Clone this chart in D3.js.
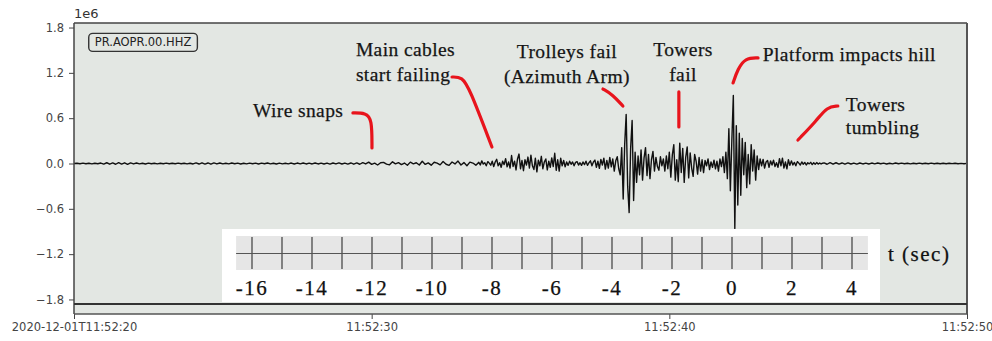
<!DOCTYPE html>
<html>
<head>
<meta charset="utf-8">
<script src="https://cdn.jsdelivr.net/npm/d3@7"></script>
<style>
  html, body { margin: 0; padding: 0; background: #ffffff; }
  svg { display: block; }
</style>
</head>
<body>
<svg id="chart" width="992" height="341"></svg>
<script>
// Seismogram, station PR.AOPR.00.HHZ, 2020-12-01 11:52:20 – 11:52:50 UTC.
// Amplitudes are in units of 1e6 counts; times are seconds past 11:52:00.

// Quiet record before the collapse (0.1 s samples from 11:52:20.0)
const earlyStart = 20.0, earlyStep = 0.1;
const traceEarly = [
  0, 0.004, -0.003, 0.005, -0.004, 0.003, -0.005, 0.004, -0.003, 0.006,
  -0.008, 0.01, -0.009, 0.007, -0.01, 0.012, -0.008, 0.009, -0.011, 0.008,
  -0.006, 0.007, -0.005, 0.004, -0.006, 0.005, -0.004, 0.003, -0.005, 0.004,
  -0.003, 0.005, -0.004, 0.003, -0.004, 0.005, -0.003, 0.004, -0.005, 0.004,
  -0.006, 0.008, -0.007, 0.009, -0.008, 0.007, -0.009, 0.008, -0.006, 0.007,
  -0.005, 0.004, -0.005, 0.006, -0.004, 0.005, -0.006, 0.004, -0.005, 0.005,
  -0.004, 0.005, -0.006, 0.005, -0.004, 0.006, -0.005, 0.004, -0.006, 0.005,
  -0.005, 0.004, -0.005, 0.006, -0.007, 0.006, -0.005, 0.007, -0.006, 0.005,
  -0.006, 0.007, -0.006, 0.005, -0.007, 0.006, -0.008, 0.007, -0.006, 0.008,
  -0.007, 0.006, -0.008, 0.007, -0.009, 0.008, -0.01, 0.012, -0.006, 0.018,
  -0.012, 0.004, -0.02, 0.01, 0.015, -0.008, -0.018, 0.022, -0.005, 0.012,
  -0.015, 0.006, -0.024, 0.018, -0.004, 0.01, -0.02, 0.03, -0.012, 0.008,
  -0.022, 0.016, 0.004, -0.018, 0.026, -0.01, -0.025, 0.02, -0.006, 0.032,
  -0.02, 0.012, -0.03, 0.018, 0.006, -0.022
];

// Collapse sequence (0.05 s samples from 11:52:33.6)
const activeStart = 33.6, activeStep = 0.05;
const traceActive = [
  0.015, -0.02, 0.035, -0.008, 0.01, -0.03, 0.025, 0.005, -0.022, 0.03,
  -0.04, 0.02, 0.055, -0.03, 0.01, -0.05, 0.03, -0.015, 0.065, -0.045,
  0.02, -0.06, 0.105, -0.04, 0.03, -0.085, 0.06, 0.125, -0.07, 0.04,
  -0.095, 0.05, -0.02, 0.085, -0.06, 0.11, -0.03, -0.08, 0.07, -0.11,
  0.045, -0.03, 0.095, -0.07, 0.02, 0.06, -0.085, 0.03, -0.05, 0.075,
  -0.04, 0.135, -0.09, 0.05, -0.1, 0.07, -0.03, 0.04, -0.045, 0.02,
  -0.025, 0.03, -0.01, 0.02, -0.03, 0.015, 0.025, -0.02, 0.01, -0.025,
  0.02, -0.015, 0.03, -0.025, 0.01, 0.035, -0.03, 0.02, 0.045, -0.05,
  0.03, -0.065, 0.055, -0.02, 0.07, -0.075, 0.04, -0.06, 0.08, -0.045,
  0.06, -0.1, 0.035, 0.09, -0.07, -0.15, 0.21, -0.47, 0.25, 0.65,
  -0.30, -0.65, 0.20, 0.57, -0.49, 0.15, -0.25, 0.10, -0.15, 0.18,
  -0.22, 0.07, 0.21, -0.16, 0.12, -0.20, 0.05, 0.16, -0.1, 0.08,
  -0.04, -0.09, 0.09, -0.03, 0.06, -0.1, 0.1, -0.07, 0.15, -0.18,
  0.11, 0.25, -0.22, 0.05, -0.24, 0.27, -0.12, 0.2, -0.25, 0.08,
  0.22, -0.19, 0.14, -0.06, -0.17, 0.12, 0.03, -0.14, 0.08, -0.1,
  0.05, -0.12, 0.04, -0.03, 0.06, -0.08, 0.02, -0.05, 0.045, -0.07,
  0.03, -0.1, 0.06, -0.04, 0.09, -0.12, 0.15, -0.20, 0.46, -0.36,
  0.30, 0.90, -0.86, 0.50, -0.55, 0.40, -0.42, 0.33, -0.15, 0.28,
  -0.32, 0.12, -0.27, 0.25, -0.1, 0.18, -0.22, 0.1, -0.08, 0.06,
  -0.03, 0.055, -0.06, 0.02, 0.04, -0.05, 0.035, -0.02, 0.045, -0.04,
  0.01, -0.05, 0.065, -0.03, 0.07, -0.06, 0.02, -0.07, 0.05, -0.025,
  0.035, -0.02, 0.015, -0.03, 0.025, 0.005, -0.02, 0.02, -0.01, 0.015,
  -0.02, 0.01, -0.005, 0.015, -0.015, 0.01, -0.01, 0.012, -0.008, 0.006,
  -0.006, 0.004
];

// Coda after the towers settle (0.1 s samples from 11:52:45.2)
const lateStart = 45.2, lateStep = 0.1;
const traceLate = [
  0.008, -0.01, 0.012, -0.009, 0.01, -0.008, 0.007, -0.009, 0.008, -0.007,
  0.006, -0.008, 0.007, -0.006, 0.005, -0.007, 0.006, -0.005, 0.006, -0.004,
  0.005, -0.006, 0.004, -0.005, 0.006, -0.004, 0.005, -0.004, 0.003, -0.005,
  0.004, -0.003, 0.005, -0.004, 0.003, -0.004, 0.005, -0.003, 0.004, -0.003,
  0.003, -0.004, 0.003, -0.002, 0.004, -0.003, 0.002, -0.003, 0.002
];

// Axis ticks
const amplitudeTicks = [-1.8, -1.2, -0.6, 0.0, 0.6, 1.2, 1.8];
const timeTicks = [20, 30, 40, 50];
const timeTickLabels = ["2020-12-01T11:52:20", "11:52:30", "11:52:40", "11:52:50"];
const stationLabel = "PR.AOPR.00.HHZ";

// Relative time scale (seconds from the platform impact)
const relTickLabels = [-16, -14, -12, -10, -8, -6, -4, -2, 0, 2, 4];
const relTimeUnit = "t (sec)";

// Event notes: text anchor and leader path in (seconds, amplitude)
const eventNotes = [
  { lines: ["Wire snaps"], at: [26.01, 0.62], anchor: "start", lead: 25,
    leader: [[29.37, 0.669], [29.80, 0.669], [30.01, 0.59], [30.01, 0.205]] },
  { lines: ["Main cables", "start failing"], at: [29.47, 1.423], anchor: "start", lead: 25,
    leader: [[32.70, 1.145], [33.04, 1.145], [33.28, 1.0], [34.04, 0.218]] },
  { lines: ["Trolleys fail", "(Azimuth Arm)"], at: [36.56, 1.40], anchor: "middle", lead: 25,
    leader: [[37.77, 0.986], [38.10, 0.91], [38.44, 0.761]] },
  { lines: ["Towers", "fail"], at: [40.46, 1.423], anchor: "middle", lead: 25,
    leader: [[40.32, 0.947], [40.32, 0.483]] },
  { lines: ["Platform impacts hill"], at: [43.14, 1.357], anchor: "start", lead: 25,
    leader: [[42.98, 1.397], [42.55, 1.397], [42.30, 1.25], [42.14, 1.066]] },
  { lines: ["Towers", "tumbling"], at: [45.93, 0.695], anchor: "start", lead: 23,
    leader: [[45.66, 0.761], [45.30, 0.75], [44.95, 0.57], [44.32, 0.311]] }
];

const svg = d3.select("#chart");

const plot = { left: 74, right: 967, top: 23, spine: 304, bottom: 314 };

const x = d3.scaleLinear().domain([20, 50]).range([plot.left, plot.right]);
const y = d3.scaleLinear().domain([-1.86, 1.86]).range([plot.spine, plot.top]);

// Panel background
svg.append("rect")
  .attr("x", plot.left).attr("y", plot.top)
  .attr("width", plot.right - plot.left).attr("height", plot.bottom - plot.top)
  .attr("fill", "#e3e7e3");

// Build the trace from the three sampled sections
const samples = []
  .concat(traceEarly.map((v, i) => [earlyStart + i * earlyStep, v]))
  .concat(traceActive.map((v, i) => [activeStart + i * activeStep, v]))
  .concat(traceLate.map((v, i) => [lateStart + i * lateStep, v]));

const traceLine = d3.line().x(d => x(d[0])).y(d => y(d[1]));

svg.append("path")
  .datum(samples)
  .attr("d", traceLine)
  .attr("fill", "none")
  .attr("stroke", "#111")
  .attr("stroke-width", 1.4)
  .attr("stroke-linejoin", "round");

// Station label box
const stationG = svg.append("g");
const stText = stationG.append("text")
  .attr("x", x(20) + 69).attr("y", y(1.55))
  .attr("text-anchor", "middle")
  .attr("font-family", "DejaVu Sans")
  .attr("font-size", 11.5)
  .attr("fill", "#222")
  .text(stationLabel);
const bb = stText.node().getBBox();
stationG.insert("rect", "text")
  .attr("x", bb.x - 6).attr("y", bb.y - 2)
  .attr("width", bb.width + 12).attr("height", bb.height + 4)
  .attr("rx", 4).attr("ry", 4)
  .attr("fill", "#e3e7e3")
  .attr("stroke", "#333").attr("stroke-width", 1.4);

// Frame
svg.append("line")
  .attr("x1", plot.left).attr("x2", plot.right)
  .attr("y1", plot.top).attr("y2", plot.top)
  .attr("stroke", "#444").attr("stroke-width", 1.5);
svg.append("line")
  .attr("x1", plot.right).attr("x2", plot.right)
  .attr("y1", plot.top).attr("y2", plot.bottom)
  .attr("stroke", "#555").attr("stroke-width", 2);

// Y axis
const yAxis = d3.axisLeft(y)
  .tickValues(amplitudeTicks)
  .tickSize(5)
  .tickPadding(5)
  .tickFormat(d => d3.format(".1f")(d).replace("-", "\u2212"));
const yg = svg.append("g")
  .attr("transform", `translate(${plot.left},0)`)
  .call(yAxis);
yg.select(".domain").remove();
yg.selectAll(".tick line").attr("stroke", "#444");
yg.selectAll(".tick text")
  .attr("font-family", "DejaVu Sans").attr("font-size", 11.5).attr("fill", "#444");
svg.append("line")
  .attr("x1", plot.left).attr("x2", plot.left)
  .attr("y1", plot.top).attr("y2", plot.bottom)
  .attr("stroke", "#444").attr("stroke-width", 1.5);

svg.append("text")
  .attr("x", plot.left).attr("y", plot.top - 5)
  .attr("font-family", "DejaVu Sans").attr("font-size", 13).attr("fill", "#333")
  .text("1e6");

// X axis (time of day)
const xAxis = d3.axisBottom(x)
  .tickValues(timeTicks)
  .tickSize(5)
  .tickPadding(4)
  .tickFormat((d, i) => timeTickLabels[i]);
const xg = svg.append("g")
  .attr("transform", `translate(0,${plot.bottom})`)
  .call(xAxis);
xg.select(".domain").remove();
xg.selectAll(".tick line").attr("stroke", "#444");
xg.selectAll(".tick text")
  .attr("font-family", "DejaVu Sans").attr("font-size", 11.5).attr("fill", "#444");
svg.append("line")
  .attr("x1", plot.left).attr("x2", plot.right)
  .attr("y1", plot.bottom).attr("y2", plot.bottom)
  .attr("stroke", "#555").attr("stroke-width", 1.3);

// Relative-time scale panel
const rel = d3.scaleLinear().domain([-16, 4]).range([252, 852]);
const relBox = { top: 229, bottom: 302, padL: 30, padR: 28 };
svg.append("rect")
  .attr("x", rel(-16) - relBox.padL).attr("y", relBox.top)
  .attr("width", rel(4) + relBox.padR - (rel(-16) - relBox.padL))
  .attr("height", relBox.bottom - relBox.top)
  .attr("fill", "#ffffff");
svg.append("rect")
  .attr("x", rel(-16.53)).attr("y", 236)
  .attr("width", rel(4.53) - rel(-16.53)).attr("height", 34)
  .attr("fill", "#e6e6e6");
svg.append("line")
  .attr("x1", rel(-16.53)).attr("x2", rel(4.53))
  .attr("y1", 253.5).attr("y2", 253.5)
  .attr("stroke", "#555").attr("stroke-width", 1.2);
svg.append("g").selectAll("line")
  .data(d3.range(-16, 5, 1))
  .join("line")
  .attr("x1", d => rel(d)).attr("x2", d => rel(d))
  .attr("y1", 237).attr("y2", 269)
  .attr("stroke", "#555").attr("stroke-width", 1.4);
svg.append("g").selectAll("text")
  .data(relTickLabels)
  .join("text")
  .attr("x", d => rel(d)).attr("y", 295)
  .attr("text-anchor", "middle")
  .attr("font-family", "Liberation Serif").attr("font-size", 21)
  .attr("letter-spacing", 1.5)
  .attr("fill", "#111").attr("stroke", "#111").attr("stroke-width", 0.25)
  .text(d => String(d));
svg.append("text")
  .attr("x", 888).attr("y", 261)
  .attr("font-family", "Liberation Serif").attr("font-size", 21)
  .attr("letter-spacing", 1.5)
  .attr("fill", "#111").attr("stroke", "#111").attr("stroke-width", 0.25)
  .text(relTimeUnit);

// Bottom spine of the trace panel
svg.append("line")
  .attr("x1", plot.left).attr("x2", plot.right)
  .attr("y1", plot.spine).attr("y2", plot.spine)
  .attr("stroke", "#333").attr("stroke-width", 2.2);

// Event notes with red leaders
const leaderLine = d3.line().x(d => x(d[0])).y(d => y(d[1])).curve(d3.curveBasis);
const notes = svg.append("g");
eventNotes.forEach(n => {
  notes.append("path")
    .attr("d", leaderLine(n.leader))
    .attr("fill", "none")
    .attr("stroke", "#e8141c")
    .attr("stroke-width", 3.2)
    .attr("stroke-linecap", "round");
  const t = notes.append("text")
    .attr("x", x(n.at[0])).attr("y", y(n.at[1]))
    .attr("text-anchor", n.anchor)
    .attr("font-family", "Liberation Serif").attr("font-size", 19.5)
    .attr("letter-spacing", 0.4)
    .attr("fill", "#151515").attr("stroke", "#151515").attr("stroke-width", 0.25);
  n.lines.forEach((line, i) => {
    t.append("tspan")
      .attr("x", x(n.at[0]))
      .attr("dy", i === 0 ? 0 : n.lead)
      .text(line);
  });
});
</script>
</body>
</html>
